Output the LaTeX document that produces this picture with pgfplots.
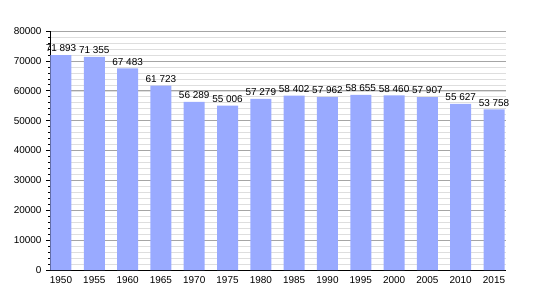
\documentclass[border=0pt]{standalone}
\usepackage{pgfplots}
\pgfplotsset{compat=1.18}
\usepackage{fontspec}
\setmainfont{Liberation Sans}
\definecolor{barblue}{RGB}{153,170,255}
\definecolor{majgrid}{RGB}{165,165,165}
\definecolor{mingrid}{RGB}{222,222,222}
\begin{document}
\begin{tikzpicture}
\path[use as bounding box] (0,0) rectangle (535bp,300bp);
\begin{axis}[
  at={(50bp,30bp)}, anchor=south west,
  scale only axis, width=456bp, height=239bp,
  ymin=0, ymax=80000,
  xmin=-0.33, xmax=13.36,
  ytick={0,10000,...,80000},
  minor ytick={0,2000,...,80000},
  ymajorgrids, yminorgrids,
  major grid style={majgrid, line width=0.6pt},
  minor grid style={mingrid, line width=0.5pt},
  axis x line*=bottom, axis y line*=left,
  axis line style={black, line width=0.8pt, -},
  xtick={0,...,13},
  xticklabels={1950,1955,1960,1965,1970,1975,1980,1985,1990,1995,2000,2005,2010,2015},
  x tick style={draw=none},
  y tick style={black, line width=0.6pt},
  tick align=outside,
  major tick length=4bp, minor tick length=2bp,
  scaled y ticks=false,
  yticklabel style={/pgf/number format/fixed, /pgf/number format/1000 sep={}, xshift=-1bp},
  /pgf/number format/assume math mode=true,
  tick label style={font=\fontsize{10}{12}\selectfont},
  xticklabel style={yshift=1bp},
  nodes near coords={\pgfmathprintnumber[1000 sep={\ }]{\pgfplotspointmeta}},
  nodes near coords style={font=\fontsize{10}{12}\selectfont, inner sep=1.5bp, yshift=1.5bp},
  clip=false,
]
\addplot[ybar, bar width=0.63, fill=barblue, draw=none] coordinates {
(0,71893) (1,71355) (2,67483) (3,61723) (4,56289) (5,55006) (6,57279)
(7,58402) (8,57962) (9,58655) (10,58460) (11,57907) (12,55627) (13,53758)
};
\end{axis}
\end{tikzpicture}
\end{document}
